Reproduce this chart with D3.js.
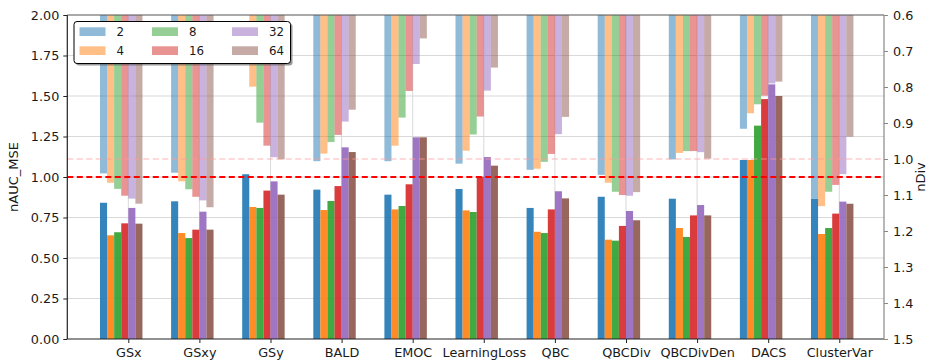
<!DOCTYPE html>
<html>
<head>
<meta charset="utf-8">
<script src="https://cdn.jsdelivr.net/npm/d3@7"></script>
<style>
  html, body { margin: 0; padding: 0; background: #fff; }
  svg { display: block; font-family: "DejaVu Sans", sans-serif; }
</style>
</head>
<body>
<svg id="chart" width="933" height="362"></svg>
<script>
// Query strategies on the x axis
const categories = ["GSx", "GSxy", "GSy", "BALD", "EMOC", "LearningLoss", "QBC",
                    "QBCDiv", "QBCDivDen", "DACS", "ClusterVar"];
// Batch sizes (legend entries)
const batchSizes = ["2", "4", "8", "16", "32", "64"];

// nAUC_MSE per batch size (left axis, solid bars)
const nauc2  = [0.841, 0.850, 1.017, 0.922, 0.891, 0.926, 0.809, 0.878, 0.866, 1.105, 0.866];
const nauc4  = [0.640, 0.654, 0.815, 0.796, 0.800, 0.794, 0.662, 0.613, 0.685, 1.105, 0.648];
const nauc8  = [0.659, 0.623, 0.809, 0.852, 0.821, 0.784, 0.654, 0.607, 0.630, 1.317, 0.685];
const nauc16 = [0.714, 0.675, 0.916, 0.944, 0.955, 1.002, 0.800, 0.698, 0.763, 1.481, 0.774];
const nauc32 = [0.809, 0.786, 0.973, 1.183, 1.245, 1.123, 0.912, 0.790, 0.827, 1.572, 0.848];
const nauc64 = [0.712, 0.675, 0.891, 1.154, 1.245, 1.070, 0.868, 0.733, 0.763, 1.500, 0.835];

// nDiv per batch size (right axis, inverted, translucent bars hanging from the top)
const ndiv2  = [1.040, 1.038, 0.580, 1.006, 1.006, 1.013, 1.030, 1.044, 1.001, 0.916, 1.110];
const ndiv4  = [1.066, 1.062, 0.799, 0.985, 0.963, 0.977, 1.027, 1.066, 0.983, 0.873, 1.131];
const ndiv8  = [1.083, 1.084, 0.899, 0.953, 0.885, 0.932, 1.008, 1.091, 0.978, 0.848, 1.091];
const ndiv16 = [1.102, 1.105, 0.963, 0.933, 0.811, 0.882, 0.986, 1.100, 0.978, 0.824, 1.072];
const ndiv32 = [1.110, 1.115, 0.995, 0.896, 0.736, 0.810, 0.931, 1.102, 0.981, 0.790, 1.042];
const ndiv64 = [1.124, 1.134, 1.001, 0.863, 0.665, 0.746, 0.883, 1.092, 0.999, 0.785, 0.938];

const leftTicks  = [0, 0.25, 0.5, 0.75, 1.0, 1.25, 1.5, 1.75, 2.0];
const rightTicks = [0.6, 0.7, 0.8, 0.9, 1.0, 1.1, 1.2, 1.3, 1.4, 1.5];

const naucSeries = [nauc2, nauc4, nauc8, nauc16, nauc32, nauc64];
const ndivSeries = [ndiv2, ndiv4, ndiv8, ndiv16, ndiv32, ndiv64];
const colors = ["#1f77b4", "#ff7f0e", "#2ca02c", "#d62728", "#9467bd", "#8c564b"];

const svg = d3.select("#chart");
const plot = { left: 67.3, right: 884, top: 15, bottom: 339 };

const x = d3.scaleLinear().domain([-0.858, 10.629]).range([plot.left, plot.right]);
const yL = d3.scaleLinear().domain([0, 2]).range([plot.bottom, plot.top]);
const yR = d3.scaleLinear().domain([0.6, 1.5]).range([plot.top, plot.bottom]);
const barW = 0.0995; // in category units

svg.append("defs").append("clipPath").attr("id", "plotClip")
  .append("rect").attr("x", plot.left).attr("y", plot.top)
  .attr("width", plot.right - plot.left).attr("height", plot.bottom - plot.top);

// grid
const grid = svg.append("g").attr("stroke", "#d9d9d9").attr("stroke-width", 1);
grid.selectAll(".hg").data(leftTicks.slice(1, -1)).join("line")
  .attr("x1", plot.left).attr("x2", plot.right)
  .attr("y1", d => yL(d)).attr("y2", d => yL(d));
grid.selectAll(".vg").data(categories).join("line")
  .attr("x1", (d, i) => x(i)).attr("x2", (d, i) => x(i))
  .attr("y1", plot.top).attr("y2", plot.bottom);

const bars = svg.append("g").attr("clip-path", "url(#plotClip)");

// translucent nDiv bars hanging from the top of the axis
ndivSeries.forEach((vals, j) => {
  bars.append("g").attr("fill", colors[j]).attr("fill-opacity", 0.5)
    .selectAll("rect").data(vals).join("rect")
    .attr("x", (d, i) => x(i + (j - 4) * barW))
    .attr("width", x(barW) - x(0))
    .attr("y", plot.top)
    .attr("height", d => Math.max(0, yR(d) - yR(0.6)));
});

// solid nAUC_MSE bars
naucSeries.forEach((vals, j) => {
  bars.append("g").attr("fill", colors[j]).attr("fill-opacity", 0.9)
    .selectAll("rect").data(vals).join("rect")
    .attr("x", (d, i) => x(i + (j - 4) * barW))
    .attr("width", x(barW) - x(0))
    .attr("y", d => yL(d))
    .attr("height", d => yL(0) - yL(d));
});

// reference lines at 1.0
svg.append("line")
  .attr("x1", plot.left).attr("x2", plot.right)
  .attr("y1", yR(1.0)).attr("y2", yR(1.0))
  .attr("stroke", "#ff9999").attr("stroke-opacity", 0.5).attr("stroke-width", 1.6)
  .attr("stroke-dasharray", "6,3.5");
svg.append("line")
  .attr("x1", plot.left).attr("x2", plot.right)
  .attr("y1", yL(1.0)).attr("y2", yL(1.0))
  .attr("stroke", "#ff0000").attr("stroke-width", 1.8)
  .attr("stroke-dasharray", "6,3.5");

// axes
const fontSize = 12.8;
const leftAxis = svg.append("g").attr("transform", `translate(${plot.left},0)`)
  .call(d3.axisLeft(yL).tickValues(leftTicks).tickFormat(d3.format(".2f"))
    .tickSize(4).tickPadding(4));
const rightAxis = svg.append("g").attr("transform", `translate(${plot.right},0)`)
  .call(d3.axisRight(yR).tickValues(rightTicks).tickFormat(d3.format(".1f"))
    .tickSize(4).tickPadding(5));
const bottomAxis = svg.append("g").attr("transform", `translate(0,${plot.bottom})`)
  .call(d3.axisBottom(x).tickValues(d3.range(categories.length))
    .tickFormat(i => categories[i]).tickSize(4).tickPadding(5));

[leftAxis, rightAxis, bottomAxis].forEach(a => {
  a.selectAll("text").attr("font-family", "DejaVu Sans").attr("font-size", fontSize).attr("fill", "#1a1a1a");
  a.select(".domain").remove();
});
leftAxis.selectAll(".tick line").attr("stroke", "#222");
bottomAxis.selectAll(".tick line").attr("stroke", "#222");
rightAxis.selectAll(".tick line").attr("stroke", "#888");

// spines
svg.append("line").attr("x1", plot.left).attr("x2", plot.left)
  .attr("y1", plot.top).attr("y2", plot.bottom).attr("stroke", "#222").attr("stroke-width", 1.2);
svg.append("line").attr("x1", plot.left).attr("x2", plot.right)
  .attr("y1", plot.bottom).attr("y2", plot.bottom).attr("stroke", "#222").attr("stroke-width", 1.2);
svg.append("line").attr("x1", plot.left).attr("x2", plot.right)
  .attr("y1", plot.top).attr("y2", plot.top).attr("stroke", "#555").attr("stroke-width", 1.2);
svg.append("line").attr("x1", plot.right).attr("x2", plot.right)
  .attr("y1", plot.top).attr("y2", plot.bottom).attr("stroke", "#888").attr("stroke-width", 1.2);

// axis titles
svg.append("text").text("nAUC_MSE")
  .attr("transform", `translate(18,${(plot.top + plot.bottom) / 2}) rotate(-90)`)
  .attr("text-anchor", "middle").attr("font-size", 13).attr("fill", "#1a1a1a");
svg.append("text").text("nDiv")
  .attr("transform", `translate(925,${(plot.top + plot.bottom) / 2}) rotate(-90)`)
  .attr("text-anchor", "middle").attr("font-size", 13).attr("fill", "#1a1a1a");

// legend
const lg = svg.append("g").attr("transform", "translate(74,21.5)");
lg.append("rect").attr("x", 2).attr("y", 2).attr("width", 216.5).attr("height", 42)
  .attr("rx", 3).attr("fill", "#555").attr("fill-opacity", 0.6);
lg.append("rect").attr("x", 0).attr("y", 0).attr("width", 216.5).attr("height", 42)
  .attr("rx", 3).attr("fill", "#fff").attr("stroke", "#000").attr("stroke-width", 1);
const colX = [5.5, 78, 158];
batchSizes.forEach((b, j) => {
  const col = Math.floor(j / 2), row = j % 2;
  const item = lg.append("g").attr("transform", `translate(${colX[col]},${5.8 + row * 19})`);
  item.append("rect").attr("width", 26).attr("height", 8.7)
    .attr("fill", colors[j]).attr("fill-opacity", 0.5);
  item.append("text").text(b).attr("x", 37).attr("y", 9)
    .attr("font-size", 11.8).attr("fill", "#1a1a1a");
});
</script>
</body>
</html>
